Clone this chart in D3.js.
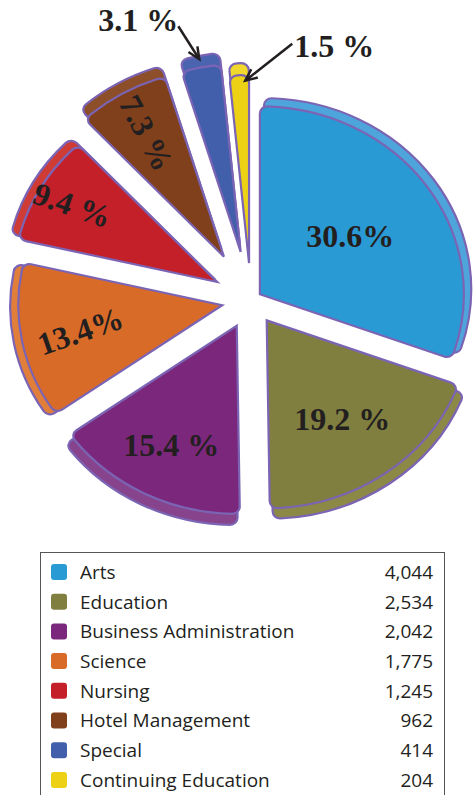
<!DOCTYPE html>
<html>
<head>
<meta charset="utf-8">
<script src="https://cdn.jsdelivr.net/npm/d3@7"></script>
<style>
  body { margin: 0; background: #fff; }
</style>
</head>
<body>
<div id="pie"></div>
<script>
// Data
const faculties = ["Arts", "Education", "Business Administration", "Science",
                   "Nursing", "Hotel Management", "Special", "Continuing Education"];
const students = [4044, 2534, 2042, 1775, 1245, 962, 414, 204];
const pctLabels = ["30.6%", "19.2 %", "15.4 %", "13.4%", "9.4 %", "7.3 %", "3.1 %", "1.5 %"];

// Slice colours: face and the lighter rim behind it
const faceColors = ["#2a9ad4", "#807f3f", "#7b287c", "#d96b28", "#c3202a", "#80401b", "#415faa", "#ecd114"];
const rimColors  = ["#4ea5dc", "#8c8846", "#87438b", "#e07e3a", "#cf3b35", "#8d4e2a", "#4b64b0", "#f1d82c"];

// How far each slice is pulled out of the pie (px)
const explode = [10, 25, 29, 27, 36, 50, 49, 37];
// Where the % label sits (fraction of radius) and its tilt in degrees
const labelR = [0.54, 0.64, 0.71, 0.71, 0.82, 0.76, 0, 0];
const labelTilt = [0, 0, 0, -19, 19, 62, 0, 0];
// Small slices get their label outside with an arrow
const callouts = {
  "Special":              { ax: -21, ay: -33, tx: -40, ty: -6, rf: 1.045, da: 0 },
  "Continuing Education": { ax: 47, ay: -37, tx: 42, ty: 2, rf: 0.97, da: 0.6 }
};

const width = 474, height = 795;
const cx = 251, cy = 300, radius = 188, sx = 1.085;
const rimGrow = 3;
const outline = "#7b64b4", ink = "#231f20";

const data = faculties.map((f, i) => ({ name: f, value: students[i], i: i }));

// Append the svg object to the body of the page
const svg = d3.select("#pie")
  .append("svg")
  .attr("width", width)
  .attr("height", height);

const pie = d3.pie()
  .sort(null)
  .value(d => d.value)
  .startAngle(0)
  .endAngle(2 * Math.PI);

const arcs = pie(data);

const arcFace = d3.arc().innerRadius(0).outerRadius(radius).cornerRadius(7);
const arcRim = d3.arc().innerRadius(0).outerRadius(radius + rimGrow).cornerRadius(7);

// screen offset of a point at distance r along angle a (ellipse squashed in x)
function polar(a, r) {
  return [sx * r * Math.sin(a), -r * Math.cos(a)];
}

arcs.forEach(function(d) {
  d.mid = (d.startAngle + d.endAngle) / 2;
  const off = polar(d.mid, explode[d.data.i]);
  d.tx = cx + off[0];
  d.ty = cy + off[1];
});

const slices = svg.append("g")
  .selectAll("g")
  .data(arcs)
  .enter()
  .append("g");

// Add the rim (a shifted copy behind the slice, thicker top and bottom)
slices.append("path")
  .attr("d", arcRim)
  .attr("transform", function(d) {
    const ox = 5 * Math.sin(d.mid), oy = -9 * Math.cos(d.mid);
    return "translate(" + (d.tx + ox) + "," + (d.ty + oy) + ") scale(" + sx + ",1)";
  })
  .style("fill", d => rimColors[d.data.i])
  .style("stroke", outline)
  .style("stroke-width", 2.2)
  .attr("vector-effect", "non-scaling-stroke");

// Add the slice face
slices.append("path")
  .attr("d", arcFace)
  .attr("transform", d => "translate(" + d.tx + "," + d.ty + ") scale(" + sx + ",1)")
  .style("fill", d => faceColors[d.data.i])
  .style("stroke", outline)
  .style("stroke-width", 2.2)
  .attr("vector-effect", "non-scaling-stroke");

// Labels inside the slices
const inside = arcs.filter(d => !callouts[d.data.name]);
svg.append("g")
  .selectAll("text")
  .data(inside)
  .enter()
  .append("text")
  .attr("transform", function(d) {
    const p = polar(d.mid, radius * labelR[d.data.i]);
    return "translate(" + (d.tx + p[0]) + "," + (d.ty + p[1]) + ") rotate(" + labelTilt[d.data.i] + ")";
  })
  .attr("text-anchor", "middle")
  .attr("dy", "0.35em")
  .style("font-family", "'Liberation Serif', 'DejaVu Serif', serif")
  .style("font-weight", "bold")
  .style("font-size", "32px")
  .style("fill", ink)
  .text(d => pctLabels[d.data.i]);

// Labels outside with arrows
const outside = arcs.filter(d => callouts[d.data.name]);
const call = svg.append("g")
  .selectAll("g")
  .data(outside)
  .enter()
  .append("g");

call.each(function(d) {
  const c = callouts[d.data.name];
  const half = (d.endAngle - d.startAngle) / 2;
  const p = polar(d.mid + c.da * half, radius * c.rf);
  const x1 = d.tx + p[0], y1 = d.ty + p[1];
  const x0 = x1 + c.ax, y0 = y1 + c.ay;
  const g = d3.select(this);

  g.append("line")
    .attr("x1", x0).attr("y1", y0)
    .attr("x2", x1).attr("y2", y1)
    .style("stroke", ink)
    .style("stroke-width", 2.5);

  // open arrow head
  const ang = Math.atan2(y1 - y0, x1 - x0);
  const head = 13, spread = 0.42;
  const hx = [ang + Math.PI - spread, ang + Math.PI + spread].map(a => [x1 + head * Math.cos(a), y1 + head * Math.sin(a)]);
  g.append("path")
    .attr("d", "M" + hx[0] + "L" + x1 + "," + y1 + "L" + hx[1])
    .style("fill", "none")
    .style("stroke", ink)
    .style("stroke-width", 2.5);

  g.append("text")
    .attr("x", x0 + c.tx)
    .attr("y", y0 + c.ty)
    .attr("text-anchor", "middle")
    .attr("dy", "0.35em")
    .style("font-family", "'Liberation Serif', 'DejaVu Serif', serif")
    .style("font-weight", "bold")
    .style("font-size", "32px")
    .style("fill", ink)
    .text(pctLabels[d.data.i]);
});

// Add the legend table
const legendX = 40, legendY = 552, legendW = 404, rowH = 29.7;
svg.append("rect")
  .attr("x", legendX + 0.5)
  .attr("y", legendY + 0.5)
  .attr("width", legendW)
  .attr("height", 260)
  .style("fill", "none")
  .style("stroke", "#555")
  .style("stroke-width", 1);

const rows = svg.append("g")
  .selectAll("g")
  .data(data)
  .enter()
  .append("g")
  .attr("transform", (d, i) => "translate(0," + (legendY + 20 + i * rowH) + ")");

rows.append("rect")
  .attr("x", 51)
  .attr("y", -8)
  .attr("width", 16)
  .attr("height", 16)
  .attr("rx", 3)
  .style("fill", d => faceColors[d.i]);

rows.append("text")
  .attr("x", 80)
  .attr("dy", "0.36em")
  .style("font-family", "'Open Sans', 'Noto Sans', sans-serif")
  .style("font-size", "19px")
  .style("fill", ink)
  .text(d => d.name);

rows.append("text")
  .attr("x", 433)
  .attr("dy", "0.36em")
  .attr("text-anchor", "end")
  .style("font-family", "'Open Sans', 'Noto Sans', sans-serif")
  .style("font-size", "19px")
  .style("fill", ink)
  .text(d => d3.format(",")(d.value));
</script>
</body>
</html>
